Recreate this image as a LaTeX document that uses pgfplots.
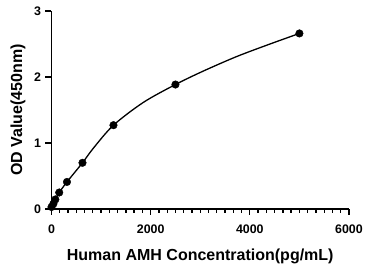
\documentclass[border=0pt]{standalone}
\usepackage{pgfplots}
\pgfplotsset{compat=1.18}
\usepackage{fontspec}
\setmainfont{Liberation Sans}
\begin{document}
\begin{tikzpicture}[font=\bfseries]
\begin{axis}[
  name=ax,
  at={(0,0)}, anchor=south west,
  scale only axis,
  width=297.5pt, height=198pt,
  xmin=0, xmax=6000, ymin=0, ymax=3,
  axis x line*=bottom, axis y line*=left,
  axis line style={line width=1.5pt},
  xtick={0,2000,4000,6000}, ytick={0,1,2,3},
  minor x tick num=11,
  tick align=outside,
  major tick length=6pt, minor tick length=4pt,
  every tick/.style={line width=1.3pt, black},
  /pgf/number format/assume math mode=true,
  /pgf/number format/1000 sep={},
  tick label style={font=\fontsize{12.4}{13}\selectfont\bfseries},
  xticklabel style={yshift=-6pt},
  yticklabel style={xshift=-1pt},
  xlabel={Human AMH Concentration(pg/mL)},
  ylabel={OD Value(450nm)},
  label style={font=\fontsize{16}{18}\selectfont\bfseries},
  xlabel style={at={(axis description cs:0.5,-0.2626)}, anchor=base},
  ylabel style={at={(axis description cs:-0.1126,0.5)}, anchor=center},
  clip=false,
]
\addplot[line width=1.3pt, smooth, tension=0.5, no marks] coordinates {
(0,0.03) (39,0.08) (78,0.145) (156,0.25) (312,0.41) (625,0.70) (843,0.92) (1250,1.27) (1852,1.615) (2500,1.886) (3062,2.09) (3735,2.31) (4407,2.50) (5000,2.66)};
\addplot[only marks, mark=*, mark size=3.8pt, black] coordinates {
(0,0.03) (39,0.08) (78,0.145) (156,0.25) (312,0.41) (625,0.70) (1250,1.27) (2500,1.886) (5000,2.66)};
\end{axis}
\pgfresetboundingbox
\path[use as bounding box] (-51.5pt,-61pt) rectangle (316.5pt,209pt);
\end{tikzpicture}
\end{document}
